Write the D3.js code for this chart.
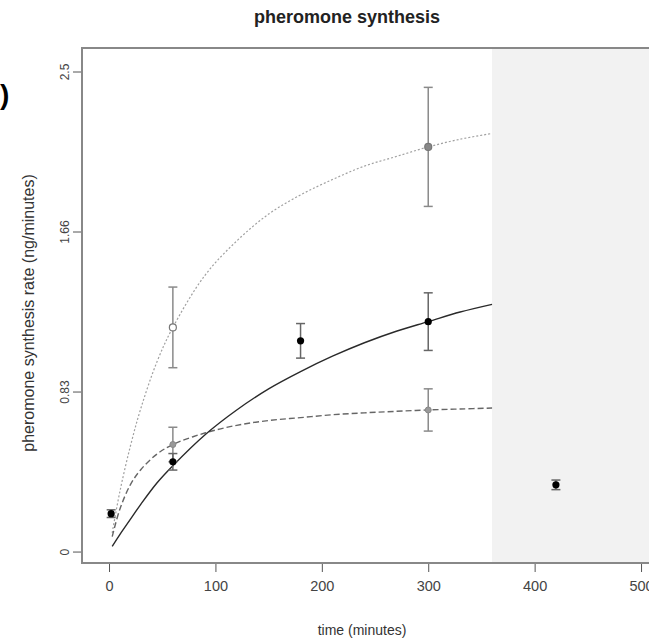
<!DOCTYPE html>
<html><head><meta charset="utf-8">
<script src="https://cdn.jsdelivr.net/npm/d3@7"></script>
<style>html,body{margin:0;padding:0;background:#fff;}svg{display:block;font-family:"Liberation Sans",Arial,sans-serif;}</style>
</head><body>
<svg id="c" width="649" height="644"></svg>
<script>
// ---- data ----
const title = "pheromone synthesis";
const xLabel = "time (minutes)";
const yLabel = "pheromone synthesis rate (ng/minutes)";
const xTicks = [0, 100, 200, 300, 400, 500];
const yTicks = [0, 0.8333, 1.6667, 2.5];
const yTickLabels = ["0", "0.83", "1.66", "2.5"];
const shadeStart = 360;

// observed means with error bars
const solidT = [2, 60, 180, 300, 420];
const solidMean = [0.20, 0.47, 1.10, 1.20, 0.35];
const solidSE = [0.02, 0.043, 0.09, 0.15, 0.025];
const dottedT = [60, 300];
const dottedMean = [1.17, 2.11];
const dottedSE = [0.21, 0.31];
const dashedT = [60, 300];
const dashedMean = [0.56, 0.74];
const dashedSE = [0.09, 0.11];

// fitted curves
const curveT = [3, 10, 20, 30, 45, 60, 90, 120, 150, 180, 210, 240, 270, 300, 330, 360];
const curveDotted = [0.10, 0.31, 0.55, 0.75, 0.99, 1.17, 1.44, 1.62, 1.76, 1.86, 1.94, 2.01, 2.06, 2.11, 2.15, 2.18];
const curveSolid = [0.03, 0.09, 0.17, 0.25, 0.36, 0.45, 0.61, 0.74, 0.85, 0.94, 1.02, 1.09, 1.15, 1.20, 1.25, 1.29];
const curveDashed = [0.08, 0.22, 0.35, 0.43, 0.51, 0.56, 0.62, 0.66, 0.685, 0.70, 0.715, 0.725, 0.733, 0.74, 0.745, 0.75];

// ---- layout ----
const svg = d3.select("#c");
const L = 82, T = 48, R = 662, B = 563;
const x = d3.scaleLinear().domain([-25.4, 519.7]).range([L, R]);
const y = d3.scaleLinear().domain([-0.057, 2.625]).range([B, T]);

// shaded region
svg.append("rect").attr("x", x(shadeStart)).attr("y", T).attr("width", R - x(shadeStart)).attr("height", B - T)
  .attr("fill", "#f2f2f2");

// panel label fragment
svg.append("text").attr("x", 0).attr("y", 104).attr("font-size", 28).attr("font-weight", "bold")
  .attr("fill", "#000").text(")");

// curves
const line = d3.line().x(d => x(d[0])).y(d => y(d[1])).curve(d3.curveCatmullRom.alpha(0.5));
svg.append("path").datum(curveT.map((t, i) => [t, curveDotted[i]])).attr("d", line)
  .attr("fill", "none").attr("stroke", "#a0a0a0").attr("stroke-width", 1.2).attr("stroke-dasharray", "2,2");
svg.append("path").datum(curveT.map((t, i) => [t, curveDashed[i]])).attr("d", line)
  .attr("fill", "none").attr("stroke", "#666").attr("stroke-width", 1.4).attr("stroke-dasharray", "6,3");
svg.append("path").datum(curveT.map((t, i) => [t, curveSolid[i]])).attr("d", line)
  .attr("fill", "none").attr("stroke", "#2a2a2a").attr("stroke-width", 1.4);

// error bars
function errBars(ts, ms, ses, color) {
  const g = svg.append("g").attr("stroke", color).attr("stroke-width", 1.5).attr("fill", "none");
  ts.forEach((t, i) => {
    const cx = x(t), y1 = y(ms[i] + ses[i]), y2 = y(ms[i] - ses[i]);
    g.append("line").attr("x1", cx).attr("x2", cx).attr("y1", y1).attr("y2", y2);
    g.append("line").attr("x1", cx - 4.5).attr("x2", cx + 4.5).attr("y1", y1).attr("y2", y1);
    g.append("line").attr("x1", cx - 4.5).attr("x2", cx + 4.5).attr("y1", y2).attr("y2", y2);
  });
}
errBars(dottedT, dottedMean, dottedSE, "#8a8a8a");
errBars(dashedT, dashedMean, dashedSE, "#8a8a8a");
errBars(solidT, solidMean, solidSE, "#666");

// points
dottedT.forEach((t, i) => {
  svg.append("circle").attr("cx", x(t)).attr("cy", y(dottedMean[i])).attr("r", 3.5)
    .attr("fill", i === 0 ? "#fff" : "#888").attr("stroke", "#777").attr("stroke-width", 1.2);
});
dashedT.forEach((t, i) => {
  svg.append("circle").attr("cx", x(t)).attr("cy", y(dashedMean[i])).attr("r", 3)
    .attr("fill", "#999").attr("stroke", "#888").attr("stroke-width", 1);
});
solidT.forEach((t, i) => {
  svg.append("circle").attr("cx", x(t)).attr("cy", y(solidMean[i])).attr("r", 3.6).attr("fill", "#000");
});

// frame
svg.append("rect").attr("x", L).attr("y", T).attr("width", R - L).attr("height", B - T)
  .attr("fill", "none").attr("stroke", "#888").attr("stroke-width", 2);

// axes
const xAxis = d3.axisBottom(x).tickValues(xTicks).tickSize(8).tickPadding(9).tickFormat(d3.format("d"));
const gx = svg.append("g").attr("transform", `translate(0,${B + 1})`).call(xAxis);
gx.select(".domain").remove();
gx.selectAll("line").attr("stroke", "#555");
gx.selectAll("text").attr("font-size", 14.5).attr("fill", "#444").attr("font-family", "Liberation Sans, Arial, sans-serif");

const yAxis = d3.axisLeft(y).tickValues(yTicks).tickSize(8).tickPadding(6).tickFormat((d, i) => yTickLabels[i]);
const gy = svg.append("g").attr("transform", `translate(${L - 1},0)`).call(yAxis);
gy.select(".domain").remove();
gy.selectAll("line").attr("stroke", "#555");
gy.selectAll("text").attr("font-size", 12).attr("fill", "#444").attr("font-family", "Liberation Sans, Arial, sans-serif")
  .attr("text-anchor", "middle").attr("transform", "rotate(-90)").attr("dy", "0");
gy.selectAll(".tick").each(function(d) {
  const tk = d3.select(this);
  tk.attr("transform", null);
  tk.select("line").attr("y1", y(d)).attr("y2", y(d));
  tk.select("text").attr("x", -y(d)).attr("y", -12);
});

// titles
svg.append("text").attr("x", 347).attr("y", 23).attr("text-anchor", "middle").attr("font-size", 18)
  .attr("font-weight", "bold").attr("fill", "#222").text(title);
svg.append("text").attr("x", 362).attr("y", 635).attr("text-anchor", "middle").attr("font-size", 14)
  .attr("fill", "#333").text(xLabel);
svg.append("text").attr("transform", "translate(34,313) rotate(-90)").attr("text-anchor", "middle")
  .attr("font-size", 16).attr("fill", "#333").text(yLabel);
</script>
</body></html>
